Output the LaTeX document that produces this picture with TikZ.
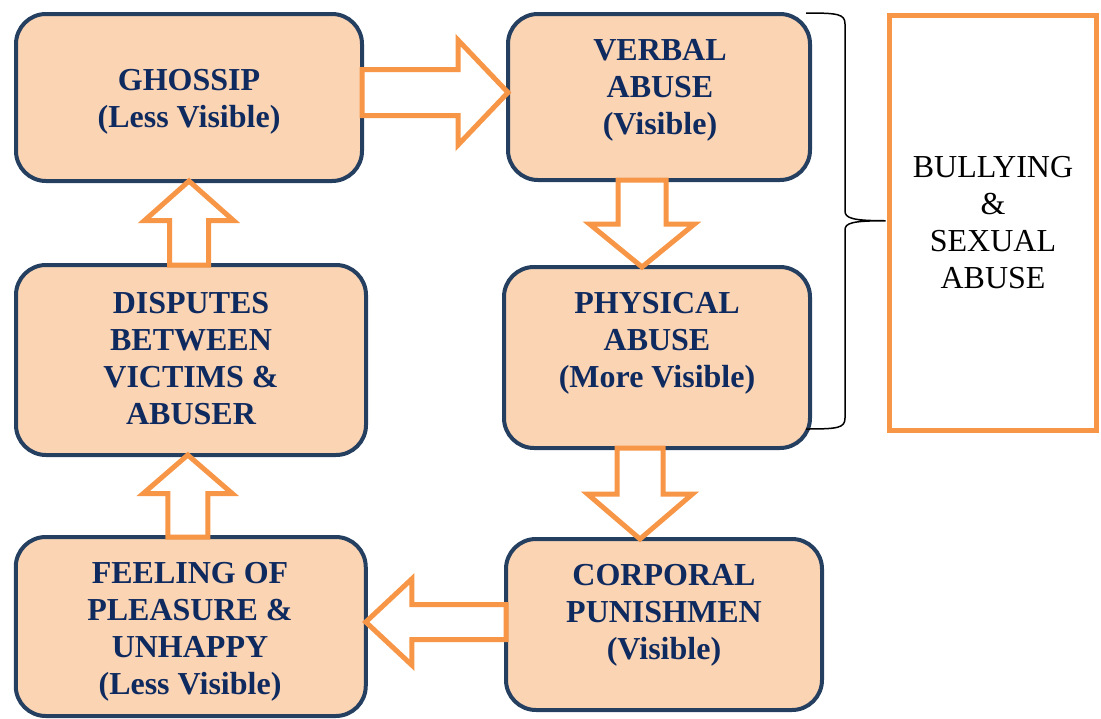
\documentclass[tikz,border=0pt]{standalone}
\usepackage{fontspec}
\setmainfont{Liberation Serif}
\usetikzlibrary{calc}

\definecolor{boxfill}{HTML}{FBD4B4}
\definecolor{boxline}{HTML}{243F60}
\definecolor{boxtext}{HTML}{0F2A5F}
\definecolor{arrowline}{HTML}{F79646}

\tikzset{
  stage/.style={draw=boxline, line width=4pt, fill=boxfill, rounded corners=30pt,
                inner sep=0pt, outer sep=0pt},
  stagetext/.style={text=boxtext, font=\fontsize{32}{37}\selectfont\bfseries,
                    align=center, inner sep=0pt},
  blockarrow/.style={draw=arrowline, line width=5pt, fill=white, line join=miter},
  groupbox/.style={draw=arrowline, line width=5pt, fill=white, inner sep=0pt,
                   outer sep=0pt, align=center, font=\fontsize{32}{37}\selectfont},
  bracestroke/.style={draw=black, line width=1.5pt},
}

% hollow block arrow: tail, tip, shaft half-width, head half-width, head length
\newcommand\flowarrow[5]{%
  \coordinate (hb) at ($(#2)!#5!(#1)$);
  \draw[blockarrow] ($(#1)!#3!90:(#2)$) -- ($(hb)!#3!90:(#2)$)
    -- ($(hb)!#4!90:(#2)$) -- (#2) -- ($(hb)!#4!-90:(#2)$)
    -- ($(hb)!#3!-90:(#2)$) -- ($(#1)!#3!-90:(#2)$) -- cycle;
}

\begin{document}
\begin{tikzpicture}[x=1pt,y=-1pt]
\useasboundingbox (0,0) rectangle (1101,718);

% stage boxes
\node[stage, minimum width=346pt, minimum height=167pt] (ghossip)  at (189,97.5) {};
\node[stage, minimum width=302pt, minimum height=166pt] (verbal)   at (659,97) {};
\node[stage, minimum width=350pt, minimum height=190pt] (disputes) at (191,360) {};
\node[stage, minimum width=306pt, minimum height=181pt] (physical) at (657,357.5) {};
\node[stage, minimum width=350pt, minimum height=179pt] (feeling)  at (190.75,626.5) {};
\node[stage, minimum width=316pt, minimum height=171pt] (corporal) at (664,624.5) {};

% stage labels
\node[stagetext] (tghossip)  at (189,101.5) {GHOSSIP\\(Less Visible)};
\node[stagetext] (tverbal)   at (660,90) {VERBAL\\ABUSE\\(Visible)};
\node[stagetext] (tphysical) at (657,343) {PHYSICAL\\ABUSE\\(More Visible)};
\node[stagetext] (tdisputes) at (191,358.5) {DISPUTES\\BETWEEN\\VICTIMS \&\\ABUSER};
\node[stagetext] (tfeeling)  at (190,631.5) {FEELING OF\\PLEASURE \&\\UNHAPPY\\(Less Visible)};
\node[stagetext] (tcorporal) at (664,615) {CORPORAL\\PUNISHMEN\\(Visible)};

% group box on the right
\node[groupbox, minimum width=207pt, minimum height=415.5pt] (group) at (993,222.75)
  {BULLYING\\\&\\SEXUAL\\ABUSE};

% brace joining the two abuse stages to the group box
\coordinate (bracetop) at (806,13);
\coordinate (bracebot) at (806,429);
\coordinate (bracetip) at ($(group.west)+(-4,-2)$);
\draw[bracestroke] (bracetop) .. controls (838,13) and (845,14) .. (845,24)
  -- (845,211) .. controls (845,218) and (852,220.75) .. (bracetip)
  .. controls (852,220.75) and (845,223) .. (845,230)
  -- (845,418) .. controls (845,428) and (838,429) .. (bracebot);

% flow arrows
\coordinate (a1s) at ($(ghossip.east)+(0,-5)$);
\coordinate (a1e) at (verbal.west |- a1s);
\flowarrow{a1s}{a1e}{23pt}{52.5pt}{50pt}

\coordinate (a2s) at ($(verbal.south)+(-17,0)$);
\coordinate (a2e) at (physical.north -| a2s);
\flowarrow{a2s}{a2e}{24pt}{52.5pt}{43pt}

\coordinate (a3s) at ($(physical.south)+(-17,0)$);
\coordinate (a3e) at (corporal.north -| a3s);
\flowarrow{a3s}{a3e}{23pt}{52.5pt}{45pt}

\coordinate (a4s) at ($(corporal.west)+(0,-2.5)$);
\coordinate (a4e) at (feeling.east |- a4s);
\flowarrow{a4s}{a4e}{17.5pt}{43pt}{46pt}

\coordinate (a5s) at ($(feeling.north)+(-3,0)$);
\coordinate (a5e) at (disputes.south -| a5s);
\flowarrow{a5s}{a5e}{20pt}{44.5pt}{38.5pt}

\coordinate (a6s) at ($(disputes.north)+(-2,0)$);
\coordinate (a6e) at (ghossip.south -| a6s);
\flowarrow{a6s}{a6e}{19.5pt}{44.5pt}{39.5pt}
\end{tikzpicture}
\end{document}
